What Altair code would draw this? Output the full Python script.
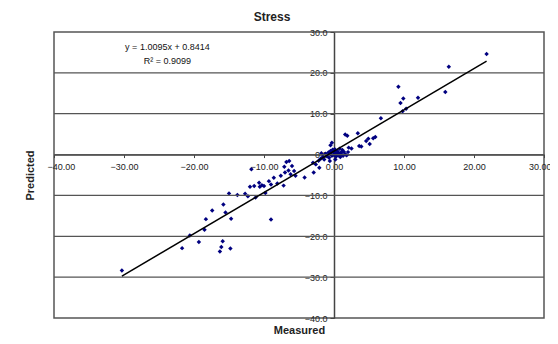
import altair as alt
import pandas as pd

measured = [21.8, 16.4, 15.9, 9.2, 9.9, 9.5, 12.0, 10.3, 9.8, 6.7,
            1.6, 1.9, 3.4, 4.9, 5.9, 5.6, 4.6, 5.1, 3.6, 3.9, 2.1, 2.5,
            -0.5, 0.1, -0.3,
            -2.6, -2.2, -1.9, -1.6, -1.4, -1.2, -1.0, -0.8, -0.7, -0.5, -0.4, -0.3,
            -0.2, -0.1, 0.0, 0.1, 0.2, 0.3, 0.4, 0.5, 0.6, 0.7, 0.9, 1.0, 1.1, 1.3,
            1.4, 1.6, 1.8, 2.0, 0.2, -0.6, 0.8, 1.2, -1.8,
            -6.8, -6.4, -7.1, -6.0, -6.5, -5.7, -7.0, -6.2, -5.5, -7.6, -2.9, -2.1, -3.0,
            -8.6, -10.7, -11.4, -9.3, -10.0, -11.8,
            -15.0, -13.8, -12.7, -12.3, -12.0, -10.6, -10.3, -9.0, -8.1, -7.2, -11.2,
            -9.8, -4.2,
            -15.8, -17.4, -15.5, -14.7, -18.3, -18.5, -20.6, -19.3, -21.7, -15.9,
            -16.1, -16.3, -14.8, -30.3, -9.0]
predicted = [24.6, 21.5, 15.3, 16.6, 13.7, 12.6, 13.9, 11.2, 10.6, 8.9,
             4.9, 4.6, 5.2, 3.9, 4.3, 4.0, 3.3, 2.6, 2.1, 2.0, 1.7, 1.5,
             2.3, 1.3, 2.9,
             -2.4, -1.5, -1.0, -0.6, -1.2, 0.2, -0.4, 0.5, -0.8, 0.9, 0.1, -0.3,
             1.2, 0.6, -0.1, 0.4, 1.0, -0.5, 0.2, 0.8, -0.2, 0.3, -0.6, 0.5, 0.0, -0.3,
             0.7, 0.1, -0.2, 0.6, -1.2, -1.6, 1.4, 1.1, 0.3,
             -1.8, -1.6, -3.0, -2.8, -3.9, -4.0, -4.4, -4.8, -5.2, -5.2, -4.4, -3.2, -2.0,
             -5.7, -6.9, -7.7, -6.5, -7.7, -3.6,
             -9.5, -9.9, -9.6, -10.2, -7.9, -7.9, -7.5, -7.3, -7.1, -7.6, -10.5,
             -9.4, -5.6,
             -12.2, -13.7, -14.2, -15.7, -15.8, -18.4, -19.8, -21.4, -22.9, -21.2,
             -22.6, -23.7, -23.0, -28.4, -15.9]

slope = 1.0095
intercept = 0.8414
x_ticks = [-40, -30, -20, -10, 0, 10, 20, 30]
y_ticks = [-40, -30, -20, -10, 0, 10, 20, 30]
grid_y = [-30, -20, -10, 0, 10, 20]
eq_text = ["y = 1.0095x + 0.8414", "R\u00b2 = 0.9099"]
eq_x = [-23.8, -23.8]
eq_y = [26.4, 23.0]

W, H = 490, 286
x_dom = [-40, 30]
y_dom = [-40, 30]
x0 = (0 - x_dom[0]) / (x_dom[1] - x_dom[0]) * W
y0 = (y_dom[1] - 0) / (y_dom[1] - y_dom[0]) * H

pts = pd.DataFrame({"Measured": measured, "Predicted": predicted})
xmin, xmax = min(measured), max(measured)
trend = pd.DataFrame({"Measured": [xmin, xmax],
                      "Predicted": [slope * xmin + intercept, slope * xmax + intercept]})
grid_df = pd.DataFrame({"Predicted": grid_y})
eq_df = pd.DataFrame({"t": eq_text, "Measured": eq_x, "Predicted": eq_y})

xs = alt.Scale(domain=x_dom, nice=False, zero=False)
ys = alt.Scale(domain=y_dom, nice=False, zero=False)
FONT = "Liberation Sans"
AX = "#444444"

x_axis = alt.Axis(values=x_ticks, format=".2f", offset=-(H - y0), grid=False,
                  domainColor=AX, domainWidth=1.5, tickColor=AX, tickSize=3, tickWidth=1,
                  labelFontSize=9, labelFont=FONT, labelColor="#222222", labelPadding=5,
                  labelFlush=True, labelFlushOffset=7, labelOverlap=False, labelBound=False,
                  title="Measured", titleX=W / 2, titleY=(H - y0) + 12,
                  titleBaseline="middle", titleFontSize=11, titleFont=FONT,
                  titleFontWeight="bold", titleColor="#222222")
y_axis = alt.Axis(values=y_ticks, format=".1f", offset=-x0, grid=False,
                  domainColor=AX, domainWidth=1.5, tickColor=AX, tickSize=4, tickWidth=1,
                  labelFontSize=9, labelFont=FONT, labelColor="#222222", labelPadding=3,
                  labelFlush=False, labelOverlap=False, labelBound=False,
                  title="Predicted", titleX=-x0 - 24, titleY=H / 2, titleAngle=270,
                  titleBaseline="middle", titleAlign="center", titleFontSize=11, titleFont=FONT,
                  titleFontWeight="bold", titleColor="#222222")

points = alt.Chart(pts).mark_point(shape="diamond", filled=True, size=20, color="#000080",
                                   opacity=1).encode(
    x=alt.X("Measured:Q", scale=xs, axis=x_axis),
    y=alt.Y("Predicted:Q", scale=ys, axis=y_axis))

grid = alt.Chart(grid_df).mark_rule(color="#555555", strokeWidth=1.3).encode(
    y=alt.Y("Predicted:Q", scale=ys))

line = alt.Chart(trend).mark_line(color="black", strokeWidth=1.5).encode(
    x=alt.X("Measured:Q", scale=xs),
    y=alt.Y("Predicted:Q", scale=ys))

eq = alt.Chart(eq_df).mark_text(font=FONT, fontSize=9, color="#111111").encode(
    x=alt.X("Measured:Q", scale=xs),
    y=alt.Y("Predicted:Q", scale=ys),
    text="t:N")

chart = alt.layer(points, grid, line, eq).properties(
    width=W, height=H,
    title=alt.TitleParams("Stress", font=FONT, fontSize=12, fontWeight="bold",
                          color="#222222", anchor="middle", offset=4, dx=-27),
    autosize=alt.AutoSizeParams(type="none"),
    padding={"left": 46, "top": 24, "right": 6, "bottom": 18},
).configure_view(stroke="#555555", strokeWidth=1.5)

chart.save("out.html", embed_options={"renderer": "svg", "actions": False})
